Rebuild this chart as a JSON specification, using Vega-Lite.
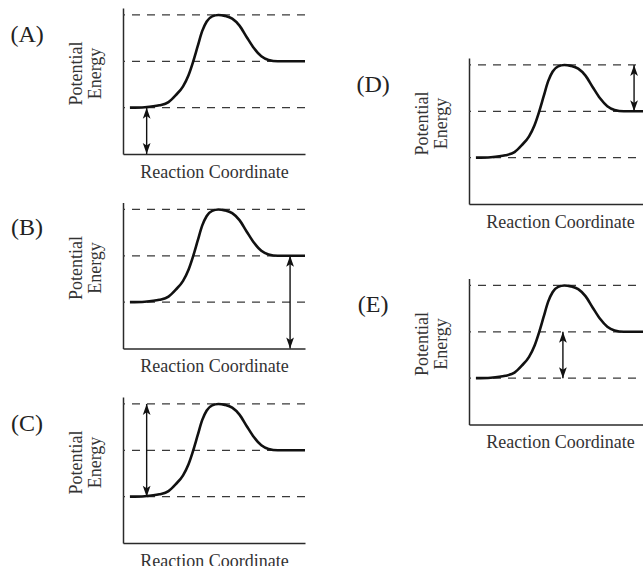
{
  "$schema": "https://vega.github.io/schema/vega-lite/v6.json",
  "background": "white",
  "padding": {"left": 10, "top": 8, "right": 0, "bottom": 0},
  "spacing": 45,
  "columns": 2,
  "align": "none",
  "datasets": {
    "curve": [
      {"rc": 0.038, "pe": 1.0},
      {"rc": 0.12, "pe": 1.01},
      {"rc": 0.2, "pe": 1.05},
      {"rc": 0.25, "pe": 1.12},
      {"rc": 0.29, "pe": 1.27},
      {"rc": 0.33, "pe": 1.46},
      {"rc": 0.36, "pe": 1.7},
      {"rc": 0.386, "pe": 2.0},
      {"rc": 0.41, "pe": 2.32},
      {"rc": 0.435, "pe": 2.65},
      {"rc": 0.46, "pe": 2.86},
      {"rc": 0.49, "pe": 2.97},
      {"rc": 0.524, "pe": 3.0},
      {"rc": 0.56, "pe": 2.98},
      {"rc": 0.6, "pe": 2.92},
      {"rc": 0.64, "pe": 2.77},
      {"rc": 0.68, "pe": 2.52},
      {"rc": 0.72, "pe": 2.28},
      {"rc": 0.76, "pe": 2.11},
      {"rc": 0.8, "pe": 2.03},
      {"rc": 0.85, "pe": 2.0},
      {"rc": 1.0, "pe": 2.0}
    ],
    "levels": [{"pe": 1}, {"pe": 2}, {"pe": 3}],
    "arrows": [
      {"panel": "A", "rc": 0.13, "lo": 0, "hi": 1},
      {"panel": "B", "rc": 0.918, "lo": 0, "hi": 2},
      {"panel": "C", "rc": 0.13, "lo": 1, "hi": 3},
      {"panel": "D", "rc": 0.907, "lo": 2, "hi": 3},
      {"panel": "E", "rc": 0.516, "lo": 1, "hi": 2}
    ],
    "labels": [
      {"panel": "A", "label": "(A)", "rc": -0.527, "pe": 2.57},
      {"panel": "B", "label": "(B)", "rc": -0.527, "pe": 2.6},
      {"panel": "C", "label": "(C)", "rc": -0.527, "pe": 2.57},
      {"panel": "D", "label": "(D)", "rc": -0.527, "pe": 2.57},
      {"panel": "E", "label": "(E)", "rc": -0.527, "pe": 2.57}
    ]
  },
  "concat": [
    {
      "spacing": 21.5,
      "vconcat": [
        {
          "width": 182, "height": 146,
          "layer": [
            {"data": {"name": "levels"}, "mark": {"type": "rule", "strokeDash": [8, 7], "strokeWidth": 1.2, "color": "#3a3a3a"},
             "encoding": {"y": {"field": "pe", "type": "quantitative", "scale": {"domain": [0, 3.15], "nice": false, "zero": false}}}},
            {"data": {"name": "curve"}, "mark": {"type": "line", "interpolate": "monotone", "color": "#111", "strokeWidth": 2.6},
             "encoding": {"x": {"field": "rc", "type": "quantitative", "scale": {"domain": [0, 1], "nice": false, "zero": false}, "axis": {"title": "Reaction Coordinate"}},
                          "y": {"field": "pe", "type": "quantitative", "scale": {"domain": [0, 3.15], "nice": false, "zero": false}, "axis": {"title": ["Potential", "Energy"]}}}},
            {"data": {"name": "arrows"}, "transform": [{"filter": "datum.panel === 'A'"}], "mark": {"type": "rule", "strokeWidth": 1.4, "color": "#111"},
             "encoding": {"x": {"field": "rc", "type": "quantitative", "scale": {"domain": [0, 1]}}, "y": {"field": "lo", "type": "quantitative", "scale": {"domain": [0, 3.15]}}, "y2": {"field": "hi"}}},
            {"data": {"name": "arrows"}, "transform": [{"filter": "datum.panel === 'A'"}], "mark": {"type": "point", "filled": true, "opacity": 1, "color": "#111", "size": 167, "shape": "M0,0L-0.6,1.7L0,1.3L0.6,1.7Z"},
             "encoding": {"x": {"field": "rc", "type": "quantitative", "scale": {"domain": [0, 1]}}, "y": {"field": "hi", "type": "quantitative", "scale": {"domain": [0, 3.15]}}}},
            {"data": {"name": "arrows"}, "transform": [{"filter": "datum.panel === 'A'"}], "mark": {"type": "point", "filled": true, "opacity": 1, "color": "#111", "size": 167, "shape": "M0,0L-0.6,-1.7L0,-1.3L0.6,-1.7Z"},
             "encoding": {"x": {"field": "rc", "type": "quantitative", "scale": {"domain": [0, 1]}}, "y": {"field": "lo", "type": "quantitative", "scale": {"domain": [0, 3.15]}}}},
            {"data": {"name": "labels"}, "transform": [{"filter": "datum.panel === 'A'"}], "mark": {"type": "text", "font": "Liberation Serif", "fontSize": 24, "color": "#222"},
             "encoding": {"x": {"field": "rc", "type": "quantitative", "scale": {"domain": [0, 1]}}, "y": {"field": "pe", "type": "quantitative", "scale": {"domain": [0, 3.15]}}, "text": {"field": "label"}}}
          ]
        },
        {
          "width": 182, "height": 146,
          "layer": [
            {"data": {"name": "levels"}, "mark": {"type": "rule", "strokeDash": [8, 7], "strokeWidth": 1.2, "color": "#3a3a3a"},
             "encoding": {"y": {"field": "pe", "type": "quantitative", "scale": {"domain": [0, 3.15], "nice": false, "zero": false}}}},
            {"data": {"name": "curve"}, "mark": {"type": "line", "interpolate": "monotone", "color": "#111", "strokeWidth": 2.6},
             "encoding": {"x": {"field": "rc", "type": "quantitative", "scale": {"domain": [0, 1], "nice": false, "zero": false}, "axis": {"title": "Reaction Coordinate"}},
                          "y": {"field": "pe", "type": "quantitative", "scale": {"domain": [0, 3.15], "nice": false, "zero": false}, "axis": {"title": ["Potential", "Energy"]}}}},
            {"data": {"name": "arrows"}, "transform": [{"filter": "datum.panel === 'B'"}], "mark": {"type": "rule", "strokeWidth": 1.4, "color": "#111"},
             "encoding": {"x": {"field": "rc", "type": "quantitative", "scale": {"domain": [0, 1]}}, "y": {"field": "lo", "type": "quantitative", "scale": {"domain": [0, 3.15]}}, "y2": {"field": "hi"}}},
            {"data": {"name": "arrows"}, "transform": [{"filter": "datum.panel === 'B'"}], "mark": {"type": "point", "filled": true, "opacity": 1, "color": "#111", "size": 167, "shape": "M0,0L-0.6,1.7L0,1.3L0.6,1.7Z"},
             "encoding": {"x": {"field": "rc", "type": "quantitative", "scale": {"domain": [0, 1]}}, "y": {"field": "hi", "type": "quantitative", "scale": {"domain": [0, 3.15]}}}},
            {"data": {"name": "arrows"}, "transform": [{"filter": "datum.panel === 'B'"}], "mark": {"type": "point", "filled": true, "opacity": 1, "color": "#111", "size": 167, "shape": "M0,0L-0.6,-1.7L0,-1.3L0.6,-1.7Z"},
             "encoding": {"x": {"field": "rc", "type": "quantitative", "scale": {"domain": [0, 1]}}, "y": {"field": "lo", "type": "quantitative", "scale": {"domain": [0, 3.15]}}}},
            {"data": {"name": "labels"}, "transform": [{"filter": "datum.panel === 'B'"}], "mark": {"type": "text", "font": "Liberation Serif", "fontSize": 24, "color": "#222"},
             "encoding": {"x": {"field": "rc", "type": "quantitative", "scale": {"domain": [0, 1]}}, "y": {"field": "pe", "type": "quantitative", "scale": {"domain": [0, 3.15]}}, "text": {"field": "label"}}}
          ]
        },
        {
          "width": 182, "height": 146,
          "layer": [
            {"data": {"name": "levels"}, "mark": {"type": "rule", "strokeDash": [8, 7], "strokeWidth": 1.2, "color": "#3a3a3a"},
             "encoding": {"y": {"field": "pe", "type": "quantitative", "scale": {"domain": [0, 3.15], "nice": false, "zero": false}}}},
            {"data": {"name": "curve"}, "mark": {"type": "line", "interpolate": "monotone", "color": "#111", "strokeWidth": 2.6},
             "encoding": {"x": {"field": "rc", "type": "quantitative", "scale": {"domain": [0, 1], "nice": false, "zero": false}, "axis": {"title": "Reaction Coordinate"}},
                          "y": {"field": "pe", "type": "quantitative", "scale": {"domain": [0, 3.15], "nice": false, "zero": false}, "axis": {"title": ["Potential", "Energy"]}}}},
            {"data": {"name": "arrows"}, "transform": [{"filter": "datum.panel === 'C'"}], "mark": {"type": "rule", "strokeWidth": 1.4, "color": "#111"},
             "encoding": {"x": {"field": "rc", "type": "quantitative", "scale": {"domain": [0, 1]}}, "y": {"field": "lo", "type": "quantitative", "scale": {"domain": [0, 3.15]}}, "y2": {"field": "hi"}}},
            {"data": {"name": "arrows"}, "transform": [{"filter": "datum.panel === 'C'"}], "mark": {"type": "point", "filled": true, "opacity": 1, "color": "#111", "size": 167, "shape": "M0,0L-0.6,1.7L0,1.3L0.6,1.7Z"},
             "encoding": {"x": {"field": "rc", "type": "quantitative", "scale": {"domain": [0, 1]}}, "y": {"field": "hi", "type": "quantitative", "scale": {"domain": [0, 3.15]}}}},
            {"data": {"name": "arrows"}, "transform": [{"filter": "datum.panel === 'C'"}], "mark": {"type": "point", "filled": true, "opacity": 1, "color": "#111", "size": 167, "shape": "M0,0L-0.6,-1.7L0,-1.3L0.6,-1.7Z"},
             "encoding": {"x": {"field": "rc", "type": "quantitative", "scale": {"domain": [0, 1]}}, "y": {"field": "lo", "type": "quantitative", "scale": {"domain": [0, 3.15]}}}},
            {"data": {"name": "labels"}, "transform": [{"filter": "datum.panel === 'C'"}], "mark": {"type": "text", "font": "Liberation Serif", "fontSize": 24, "color": "#222"},
             "encoding": {"x": {"field": "rc", "type": "quantitative", "scale": {"domain": [0, 1]}}, "y": {"field": "pe", "type": "quantitative", "scale": {"domain": [0, 3.15]}}, "text": {"field": "label"}}}
          ]
        }
      ]
    },
    {
      "spacing": 40,
      "vconcat": [
        {
          "width": 182, "height": 10,
          "view": {"fill": "white", "stroke": null},
          "data": {"values": []},
          "mark": "point"
        },
        {
          "spacing": 47.5,
          "vconcat": [
            {
              "width": 182, "height": 146,
              "layer": [
                {"data": {"name": "levels"}, "mark": {"type": "rule", "strokeDash": [8, 7], "strokeWidth": 1.2, "color": "#3a3a3a"},
                 "encoding": {"y": {"field": "pe", "type": "quantitative", "scale": {"domain": [0, 3.15], "nice": false, "zero": false}}}},
                {"data": {"name": "curve"}, "mark": {"type": "line", "interpolate": "monotone", "color": "#111", "strokeWidth": 2.6},
                 "encoding": {"x": {"field": "rc", "type": "quantitative", "scale": {"domain": [0, 1], "nice": false, "zero": false}, "axis": {"title": "Reaction Coordinate"}},
                              "y": {"field": "pe", "type": "quantitative", "scale": {"domain": [0, 3.15], "nice": false, "zero": false}, "axis": {"title": ["Potential", "Energy"]}}}},
                {"data": {"name": "arrows"}, "transform": [{"filter": "datum.panel === 'D'"}], "mark": {"type": "rule", "strokeWidth": 1.4, "color": "#111"},
                 "encoding": {"x": {"field": "rc", "type": "quantitative", "scale": {"domain": [0, 1]}}, "y": {"field": "lo", "type": "quantitative", "scale": {"domain": [0, 3.15]}}, "y2": {"field": "hi"}}},
                {"data": {"name": "arrows"}, "transform": [{"filter": "datum.panel === 'D'"}], "mark": {"type": "point", "filled": true, "opacity": 1, "color": "#111", "size": 167, "shape": "M0,0L-0.6,1.7L0,1.3L0.6,1.7Z"},
                 "encoding": {"x": {"field": "rc", "type": "quantitative", "scale": {"domain": [0, 1]}}, "y": {"field": "hi", "type": "quantitative", "scale": {"domain": [0, 3.15]}}}},
                {"data": {"name": "arrows"}, "transform": [{"filter": "datum.panel === 'D'"}], "mark": {"type": "point", "filled": true, "opacity": 1, "color": "#111", "size": 167, "shape": "M0,0L-0.6,-1.7L0,-1.3L0.6,-1.7Z"},
                 "encoding": {"x": {"field": "rc", "type": "quantitative", "scale": {"domain": [0, 1]}}, "y": {"field": "lo", "type": "quantitative", "scale": {"domain": [0, 3.15]}}}},
                {"data": {"name": "labels"}, "transform": [{"filter": "datum.panel === 'D'"}], "mark": {"type": "text", "font": "Liberation Serif", "fontSize": 24, "color": "#222"},
                 "encoding": {"x": {"field": "rc", "type": "quantitative", "scale": {"domain": [0, 1]}}, "y": {"field": "pe", "type": "quantitative", "scale": {"domain": [0, 3.15]}}, "text": {"field": "label"}}}
              ]
            },
            {
              "width": 182, "height": 146,
              "layer": [
                {"data": {"name": "levels"}, "mark": {"type": "rule", "strokeDash": [8, 7], "strokeWidth": 1.2, "color": "#3a3a3a"},
                 "encoding": {"y": {"field": "pe", "type": "quantitative", "scale": {"domain": [0, 3.15], "nice": false, "zero": false}}}},
                {"data": {"name": "curve"}, "mark": {"type": "line", "interpolate": "monotone", "color": "#111", "strokeWidth": 2.6},
                 "encoding": {"x": {"field": "rc", "type": "quantitative", "scale": {"domain": [0, 1], "nice": false, "zero": false}, "axis": {"title": "Reaction Coordinate"}},
                              "y": {"field": "pe", "type": "quantitative", "scale": {"domain": [0, 3.15], "nice": false, "zero": false}, "axis": {"title": ["Potential", "Energy"]}}}},
                {"data": {"name": "arrows"}, "transform": [{"filter": "datum.panel === 'E'"}], "mark": {"type": "rule", "strokeWidth": 1.4, "color": "#111"},
                 "encoding": {"x": {"field": "rc", "type": "quantitative", "scale": {"domain": [0, 1]}}, "y": {"field": "lo", "type": "quantitative", "scale": {"domain": [0, 3.15]}}, "y2": {"field": "hi"}}},
                {"data": {"name": "arrows"}, "transform": [{"filter": "datum.panel === 'E'"}], "mark": {"type": "point", "filled": true, "opacity": 1, "color": "#111", "size": 167, "shape": "M0,0L-0.6,1.7L0,1.3L0.6,1.7Z"},
                 "encoding": {"x": {"field": "rc", "type": "quantitative", "scale": {"domain": [0, 1]}}, "y": {"field": "hi", "type": "quantitative", "scale": {"domain": [0, 3.15]}}}},
                {"data": {"name": "arrows"}, "transform": [{"filter": "datum.panel === 'E'"}], "mark": {"type": "point", "filled": true, "opacity": 1, "color": "#111", "size": 167, "shape": "M0,0L-0.6,-1.7L0,-1.3L0.6,-1.7Z"},
                 "encoding": {"x": {"field": "rc", "type": "quantitative", "scale": {"domain": [0, 1]}}, "y": {"field": "lo", "type": "quantitative", "scale": {"domain": [0, 3.15]}}}},
                {"data": {"name": "labels"}, "transform": [{"filter": "datum.panel === 'E'"}], "mark": {"type": "text", "font": "Liberation Serif", "fontSize": 24, "color": "#222"},
                 "encoding": {"x": {"field": "rc", "type": "quantitative", "scale": {"domain": [0, 1]}}, "y": {"field": "pe", "type": "quantitative", "scale": {"domain": [0, 3.15]}}, "text": {"field": "label"}}}
              ]
            }
          ]
        }
      ]
    }
  ],
  "config": {
    "view": {"stroke": null},
    "axis": {"domainColor": "#2a2a2a", "domainWidth": 1.5, "ticks": false, "labels": false, "grid": false,
             "titleFont": "Liberation Serif", "titleFontSize": 18, "titleFontWeight": "normal", "titleColor": "#333"},
    "axisX": {"titlePadding": 9},
    "axisY": {"titlePadding": 19, "titleY": 65, "titleLineHeight": 19}
  }
}
